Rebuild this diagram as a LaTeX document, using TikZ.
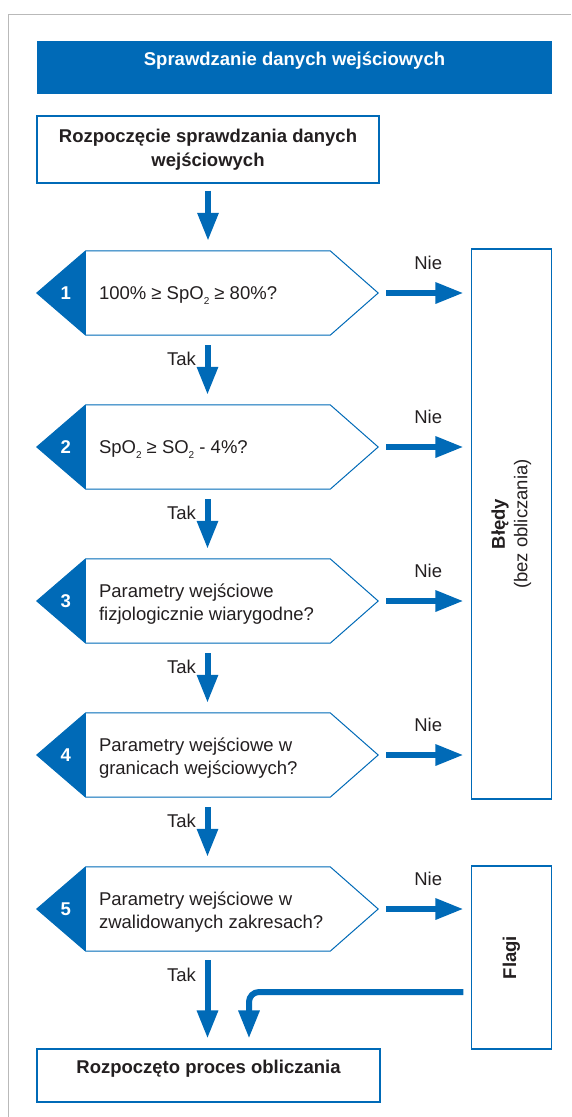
\documentclass[tikz,border=0pt]{standalone}
\usepackage{fontspec}
\setmainfont{Liberation Sans}
\usetikzlibrary{arrows.meta,calc}
\definecolor{rblue}{RGB}{0,106,183}
\definecolor{rtext}{RGB}{35,31,32}
\definecolor{rframe}{RGB}{185,185,185}
\newcommand\subtwo{\raisebox{-5pt}{\fontsize{10}{10}\selectfont 2}}
\begin{document}
\begin{tikzpicture}[x=1pt,y=-1pt,
  font=\fontsize{18.5}{22.5}\selectfont,
  every node/.style={text=rtext, inner sep=0pt},
  boxnode/.style={draw=rblue, line width=1.1pt},
  decarea/.style={minimum width=341pt, minimum height=84pt},
  decline/.style={draw=rblue, line width=1pt, fill=white},
  numtext/.style={text=white, font=\fontsize{18.5}{22.5}\selectfont\bfseries},
  qtext/.style={anchor=west, align=left},
  arr/.style={draw=rblue, line width=6pt, -{Triangle[length=28pt,width=20pt]}},
  lbl/.style={anchor=base},
]
\useasboundingbox (0,0) rectangle (571,1117);
% outer frame
\draw[rframe, line width=1pt] (8.5,1117) -- (8.5,14.5) -- (571,14.5);

% title bar
\node[fill=rblue, minimum width=515pt, minimum height=53pt, text=white,
      font=\fontsize{18.5}{22.5}\selectfont\bfseries, text height=13pt, text depth=18pt]
      (title) at (294.5,67.5) {Sprawdzanie danych wejściowych};

% start box
\node[boxnode, minimum width=342pt, minimum height=67pt, align=center,
      font=\fontsize{18.5}{24}\selectfont\bfseries]
      (start) at (208,149.5) {Rozpoczęcie sprawdzania danych\\wejściowych};

% decision areas
\node[decarea] (d1) at (207.5,293) {};
\node[decarea] (d2) at (207.5,447) {};
\node[decarea] (d3) at (207.5,601) {};
\node[decarea] (d4) at (207.5,755) {};
\node[decarea] (d5) at (207.5,909) {};

\foreach \n in {1,...,5}{
  \draw[decline] (d\n.west) -- ([xshift=49pt]d\n.north west) -- ([xshift=-48pt]d\n.north east)
      -- (d\n.east) -- ([xshift=-48pt]d\n.south east) -- ([xshift=49pt]d\n.south west) -- cycle;
  \fill[rblue] (d\n.west) -- ([xshift=49pt]d\n.north west) -- ([xshift=49pt]d\n.south west) -- cycle;
}

% numbers
\node[numtext] (n1) at ($(d1.west)+(29,0)$) {1};
\node[numtext] (n2) at ($(d2.west)+(29,0)$) {2};
\node[numtext] (n3) at ($(d3.west)+(29,0)$) {3};
\node[numtext] (n4) at ($(d4.west)+(29,0)$) {4};
\node[numtext] (n5) at ($(d5.west)+(29,0)$) {5};

% questions
\node[qtext] (q1) at ($(d1.west)+(62,3)$) {100\% ≥ SpO\subtwo{} ≥ 80\%?};
\node[qtext] (q2) at ($(d2.west)+(62,3)$) {SpO\subtwo{} ≥ SO\subtwo{} - 4\%?};
\node[qtext] (q3) at ($(d3.west)+(62,3)$) {Parametry wejściowe\\fizjologicznie wiarygodne?};
\node[qtext] (q4) at ($(d4.west)+(62,3)$) {Parametry wejściowe w\\granicach wejściowych?};
\node[qtext] (q5) at ($(d5.west)+(62,3)$) {Parametry wejściowe w\\zwalidowanych zakresach?};

% right boxes
\node[boxnode, minimum width=80pt, minimum height=550pt] (err) at (511.5,524)
  {\rotatebox{90}{\begin{tabular}{@{}c@{}}\textbf{Błędy}\\(bez obliczania)\end{tabular}}};
\node[boxnode, minimum width=80pt, minimum height=183pt] (flag) at (511.5,957.5)
  {\rotatebox{90}{\textbf{Flagi}}};

% end box
\node[boxnode, minimum width=343pt, minimum height=53pt,
      font=\fontsize{18.5}{22.5}\selectfont\bfseries, text height=13pt, text depth=18pt]
      (endbox) at (208.5,1075.5) {Rozpoczęto proces obliczania};

% arrows
\draw[arr, shorten <=7pt, shorten >=10pt] (start.south) -- (start.south |- d1.north);
\foreach \a/\b in {d1/d2,d2/d3,d3/d4,d4/d5}{
  \draw[arr, shorten <=10pt, shorten >=10pt] (\a.south) -- (\b.north);
}
\foreach \a in {d1,d2,d3,d4}{
  \draw[arr, shorten <=8pt, shorten >=7.5pt] (\a.east) -- (\a.east -| err.west);
}
\draw[arr, shorten <=8pt, shorten >=7.5pt] (d5.east) -- (d5.east -| flag.west);
\draw[arr, shorten <=9pt, shorten >=10pt] (d5.south) -- (d5.south |- endbox.north);
\draw[arr, rounded corners=10pt, shorten <=7.5pt]
  ([yshift=-34.5pt]flag.west) -| ($(endbox.north)+(40.5,-10)$);

% labels
\foreach \a in {d1,d2,d3,d4,d5}{
  \node[lbl] at ($(\a.east)+(50,-24)$) {Nie};
  \node[lbl] at ($(\a.south)+(-26,30)$) {Tak};
}
\end{tikzpicture}
\end{document}
